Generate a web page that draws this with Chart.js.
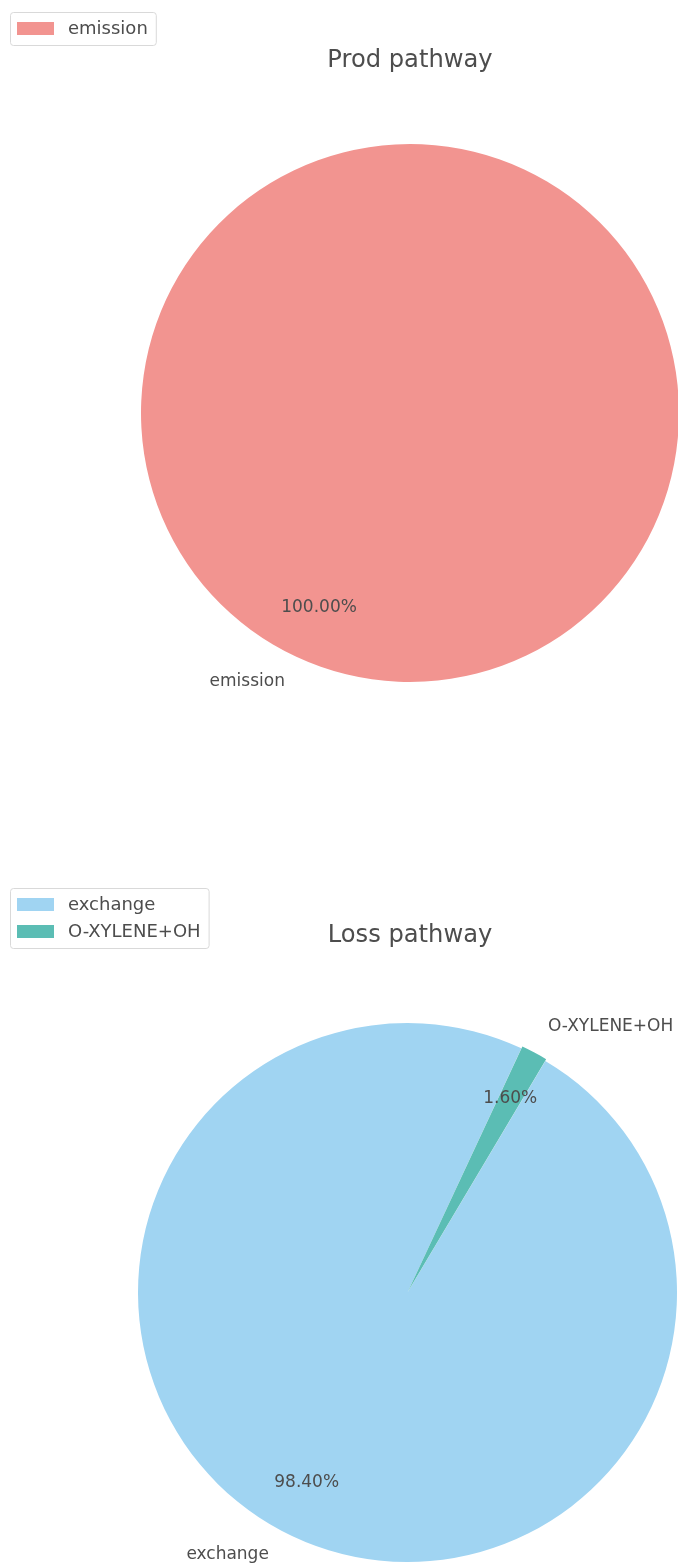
<!DOCTYPE html>
<html><head><meta charset="utf-8">
<script src="https://cdn.jsdelivr.net/npm/chart.js@4.4.0/dist/chart.umd.min.js"></script>
<style>
html,body{margin:0;padding:0;background:#fff;overflow:hidden;width:678px;height:1567px}
#wrap{position:relative;width:678px;height:1567px;overflow:hidden;background:#fff}
canvas{position:absolute;left:0}
</style></head><body>
<div id="wrap">
<canvas id="c1" width="700" height="783" style="top:0;width:700px;height:783px"></canvas>
<canvas id="c2" width="700" height="784" style="top:783px;width:700px;height:784px"></canvas>
</div>
<script>
// ---- data ----
const prodTitle = 'Prod pathway';
const prodCategories = ['emission'];
const prodValues = [100];
const prodColors = ['#F29490'];
const prodExplode = [0];

const lossTitle = 'Loss pathway';
const lossCategories = ['exchange', 'O-XYLENE+OH'];
const lossValues = [98.40, 1.60];
const lossColors = ['#A0D4F2', '#5BBDB4'];
const lossExplode = [0, 4];

const FONT = "'DejaVu Sans', 'Liberation Sans', sans-serif";
const TEXT = '#4d4d4d';

const pieText = {
  id: 'pieText',
  afterDatasetsDraw(chart, args, opts) {
    const ctx = chart.ctx;
    const meta = chart.getDatasetMeta(0);
    const vals = chart.data.datasets[0].data;
    const total = vals.reduce((a, b) => a + b, 0);
    ctx.save();
    ctx.fillStyle = TEXT;
    ctx.font = '17px ' + FONT;
    ctx.textBaseline = 'middle';
    meta.data.forEach((el, i) => {
      const p = el.getProps(['x', 'y', 'startAngle', 'endAngle', 'outerRadius'], true);
      const mid = (p.startAngle + p.endAngle) / 2;
      const off = el.options.offset || 0;
      const cx = p.x + Math.cos(mid) * off;
      const cy = p.y + Math.sin(mid) * off;
      const r = p.outerRadius;
      ctx.textAlign = 'center';
      ctx.fillText((vals[i] / total * 100).toFixed(2) + '%', cx + Math.cos(mid) * r * 0.8, cy + Math.sin(mid) * r * 0.8);
      const lx = cx + Math.cos(mid) * r * 1.1;
      const ly = cy + Math.sin(mid) * r * 1.1;
      ctx.textAlign = Math.cos(mid) >= 0 ? 'left' : 'right';
      ctx.fillText(chart.data.labels[i], lx, ly);
    });
    // title
    ctx.font = '24.2px ' + FONT;
    ctx.textAlign = 'center';
    ctx.textBaseline = 'alphabetic';
    ctx.fillText(opts.title, opts.titleX, opts.titleY);
    // legend box
    ctx.textBaseline = 'middle';
    ctx.font = '18px ' + FONT;
    let maxW = 0;
    chart.data.labels.forEach(l => { maxW = Math.max(maxW, ctx.measureText(l).width); });
    const bx = 10.5, by = opts.legendY + 0.5;
    const bw = 58 + maxW + 8, bh = 6 + 27 * chart.data.labels.length;
    ctx.fillStyle = 'rgba(255,255,255,0.8)';
    ctx.strokeStyle = '#d9d9d9';
    ctx.lineWidth = 1;
    ctx.beginPath();
    ctx.roundRect(bx, by, bw, bh, 3);
    ctx.fill();
    ctx.stroke();
    ctx.textAlign = 'left';
    chart.data.labels.forEach((l, i) => {
      const rowY = by + 16.5 + 27 * i;
      ctx.fillStyle = chart.data.datasets[0].backgroundColor[i];
      ctx.fillRect(17, rowY - 7, 37, 13);
      ctx.fillStyle = TEXT;
      ctx.fillText(l, 68, rowY);
    });
    ctx.restore();
  }
};

function makePie(id, labels, values, colors, explode, rotation, padding, title, titleX, titleY, legendY) {
  return new Chart(document.getElementById(id), {
    type: 'pie',
    data: {
      labels: labels,
      datasets: [{
        data: values,
        backgroundColor: colors,
        borderWidth: 0,
        offset: explode,
        hoverOffset: 0
      }]
    },
    options: {
      responsive: false,
      animation: false,
      devicePixelRatio: 1,
      rotation: rotation,
      layout: { padding: padding },
      events: [],
      plugins: {
        legend: { display: false },
        title: { display: false },
        tooltip: { enabled: false },
        pieText: { title: title, titleX: titleX, titleY: titleY, legendY: legendY }
      }
    },
    plugins: [pieText]
  });
}

makePie('c1', prodCategories, prodValues, prodColors, prodExplode, 25,
  { left: 141, right: 21, top: 144, bottom: 101 }, prodTitle, 410, 66.5, 12);
makePie('c2', lossCategories, lossValues, lossColors, lossExplode, 30.76,
  { left: 136, right: 21, top: 238, bottom: 3 }, lossTitle, 410, 158.5, 105);
</script>
</body></html>
